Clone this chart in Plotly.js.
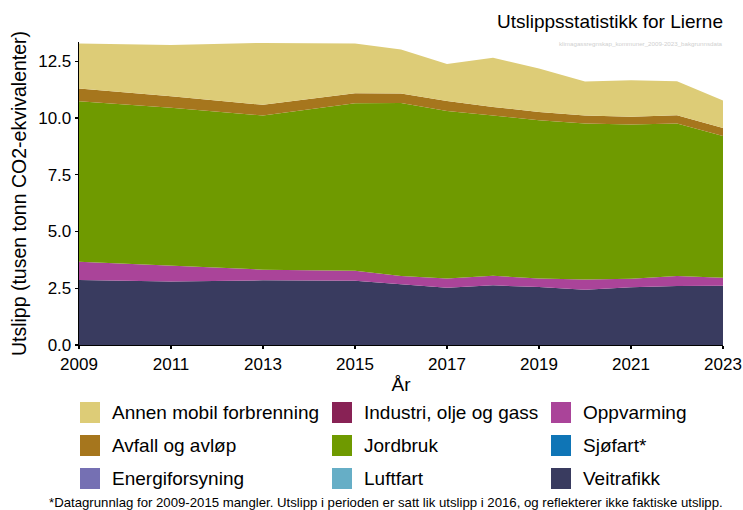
<!DOCTYPE html>
<html>
<head>
<meta charset="utf-8">
<script src="https://cdn.plot.ly/plotly-3.0.1.min.js"></script>
<style>
  html, body { margin: 0; padding: 0; background: #fff; }
  #chart { width: 743px; height: 510px; }
</style>
</head>
<body>
<div id="chart"></div>
<script>
// ---- Data ----
const years = [2009, 2011, 2013, 2015, 2016, 2017, 2018, 2019, 2020, 2021, 2022, 2023];

// Categories in legend (alphabetical) order
const categories = [
  "Annen mobil forbrenning", "Avfall og avløp", "Energiforsyning",
  "Industri, olje og gass", "Jordbruk", "Luftfart",
  "Oppvarming", "Sjøfart*", "Veitrafikk"
];
const colors = [
  "#DDCC77", "#A6761D", "#7570B3",
  "#882255", "#6F9A00", "#66AEC6",
  "#AA4499", "#0F75B6", "#393B5F"
];

const annenMobil      = [1.98, 2.26, 2.73, 2.19, 1.94, 1.63, 2.17, 1.91, 1.50, 1.60, 1.50, 1.21];
const avfall          = [0.56, 0.51, 0.47, 0.44, 0.42, 0.44, 0.38, 0.37, 0.35, 0.35, 0.36, 0.35];
const energiforsyning = [0, 0, 0, 0, 0, 0, 0, 0, 0, 0, 0, 0];
const industri        = [0, 0, 0, 0, 0, 0, 0, 0, 0, 0, 0, 0];
const jordbruk        = [7.07, 6.94, 6.79, 7.38, 7.62, 7.38, 7.06, 6.97, 6.87, 6.79, 6.72, 6.25];
const luftfart        = [0, 0, 0, 0, 0, 0, 0, 0, 0, 0, 0, 0];
const oppvarming      = [0.81, 0.71, 0.47, 0.44, 0.36, 0.41, 0.42, 0.38, 0.46, 0.38, 0.44, 0.35];
const sjofart         = [0, 0, 0, 0, 0, 0, 0, 0, 0, 0, 0, 0];
const veitrafikk      = [2.86, 2.80, 2.85, 2.83, 2.68, 2.52, 2.63, 2.55, 2.43, 2.54, 2.60, 2.61];

const xTickVals = [2009, 2011, 2013, 2015, 2017, 2019, 2021, 2023];
const xTickText = ["2009", "2011", "2013", "2015", "2017", "2019", "2021", "2023"];
const yTickVals = [0, 2.5, 5, 7.5, 10, 12.5];
const yTickText = ["0.0", "2.5", "5.0", "7.5", "10.0", "12.5"];

const titleText = "Utslippsstatistikk for Lierne";
const sourceText = "klimagassregnskap_kommuner_2009-2023_bakgrunnsdata";
const xTitle = "År";
const yTitle = "Utslipp (tusen tonn CO2-ekvivalenter)";
const footnote = "*Datagrunnlag for 2009-2015 mangler. Utslipp i perioden er satt lik utslipp i 2016, og reflekterer ikke faktiske utslipp.";

// ---- Build ----
const seriesByCat = [annenMobil, avfall, energiforsyning, industri, jordbruk, luftfart, oppvarming, sjofart, veitrafikk];

const FONT = "Liberation Sans, Arial, Helvetica, sans-serif";
const W = 743, H = 510;
const M = { l: 79, r: 20, t: 42, b: 165 };
const plotW = W - M.l - M.r, plotH = H - M.t - M.b;
const px2x = p => (p - M.l) / plotW;
const px2y = p => (H - M.b - p) / plotH;

// Stacking: last category at bottom (ggplot order)
const traces = [];
for (let i = categories.length - 1; i >= 0; i--) {
  traces.push({
    type: "scatter",
    mode: "lines",
    name: categories[i],
    x: years,
    y: seriesByCat[i],
    stackgroup: "one",
    fillcolor: colors[i],
    line: { width: 0, color: colors[i] },
    showlegend: false,
    hoverinfo: "skip"
  });
}

// Manual legend (3 columns, column-major like the reference)
const colLeft = [80, 332, 551];
const rowTop = [402, 435, 468];
const sw = 20, sh = 21;
const shapes = [];
const annotations = [];
categories.forEach((c, i) => {
  const col = Math.floor(i / 3), row = i % 3;
  const x0 = colLeft[col], y0 = rowTop[row];
  shapes.push({
    type: "rect", xref: "paper", yref: "paper",
    x0: px2x(x0), x1: px2x(x0 + sw), y0: px2y(y0 + sh), y1: px2y(y0),
    fillcolor: colors[i], line: { width: 0 }
  });
  annotations.push({
    xref: "paper", yref: "paper",
    x: px2x(x0 + sw + 10), y: px2y(y0 + sh / 2),
    xanchor: "left", yanchor: "middle", showarrow: false,
    text: c, font: { family: FONT, size: 19, color: "#000" }
  });
});

annotations.push({
  xref: "paper", yref: "paper", x: 1, y: px2y(43), xshift: 2,
  xanchor: "right", yanchor: "middle", showarrow: false,
  text: sourceText, font: { family: FONT, size: 6.2, color: "#cfcfcf" }
});
annotations.push({
  xref: "paper", yref: "paper", x: 1, y: px2y(503), xshift: 2,
  xanchor: "right", yanchor: "middle", showarrow: false,
  text: footnote, font: { family: FONT, size: 13.2, color: "#000" }
});

const layout = {
  width: W, height: H,
  margin: M,
  paper_bgcolor: "#fff", plot_bgcolor: "#fff",
  font: { family: FONT, color: "#000" },
  showlegend: false,
  hovermode: false,
  title: {
    text: titleText,
    font: { family: FONT, size: 19, color: "#000" },
    xref: "paper", x: 1, xanchor: "right",
    yref: "container", y: 1 - 21.5 / H, yanchor: "middle"
  },
  xaxis: {
    range: [2009, 2023],
    tickmode: "array", tickvals: xTickVals, ticktext: xTickText,
    showline: true, linecolor: "#000", linewidth: 1.3,
    ticks: "outside", ticklen: 3, tickwidth: 1.3, tickcolor: "#000",
    showgrid: false, zeroline: false,
    tickfont: { family: FONT, size: 17, color: "#000" },
    title: { text: xTitle, font: { family: FONT, size: 19, color: "#000" }, standoff: 5 }
  },
  yaxis: {
    range: [0, 13.35],
    tickmode: "array", tickvals: yTickVals, ticktext: yTickText,
    showline: true, linecolor: "#000", linewidth: 1.3,
    ticks: "outside", ticklen: 3, tickwidth: 1.3, tickcolor: "#000",
    showgrid: false, zeroline: false,
    tickfont: { family: FONT, size: 17, color: "#000" },
    title: { text: yTitle, font: { family: FONT, size: 19.5, color: "#000" }, standoff: 6 }
  },
  shapes: shapes,
  annotations: annotations
};

Plotly.newPlot("chart", traces, layout, { displayModeBar: false, staticPlot: true });
</script>
</body>
</html>
